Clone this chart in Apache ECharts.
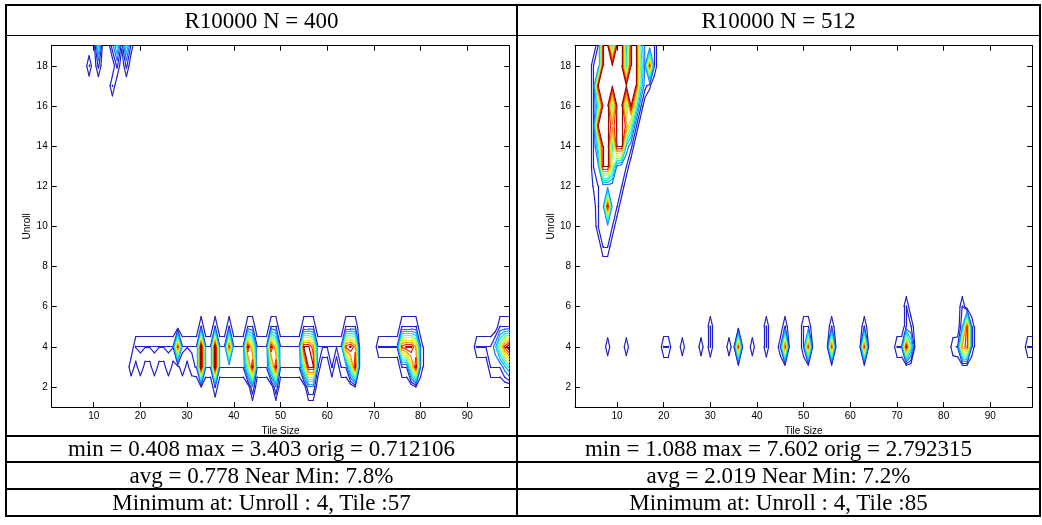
<!DOCTYPE html>
<html><head><meta charset="utf-8">
<script src="https://cdn.jsdelivr.net/npm/echarts@6/dist/echarts.min.js"></script>
<style>
html,body{margin:0;padding:0;background:#fff;}
#wrap{position:relative;width:1042px;height:525px;overflow:hidden;}
#chart{position:absolute;left:0;top:0;width:1042px;height:525px;}
.ln{position:absolute;background:#000;}
.txt{position:absolute;font-family:"Liberation Serif","Times New Roman",serif;font-size:23px;color:#000;text-align:center;white-space:nowrap;}
</style></head>
<body><div id="wrap"><div id="chart"></div></div>
<script>
// ---------- data ----------
const xTicks = [10, 20, 30, 40, 50, 60, 70, 80, 90];
const yTicks = [2, 4, 6, 8, 10, 12, 14, 16, 18];
const tileRange = [1, 99];
const unrollRange = [1, 19];
const levels = [0.5, 0.97, 1.6, 2.2, 2.8, 3.4, 4.0, 4.6, 5.2, 5.8, 6.4];
const levelColors = ['#2020c4', '#2020d4', '#2070ff', '#00b8ff', '#00f0f0', '#60ff9f', '#c8ff38', '#ffe000', '#ff9000', '#ff2400', '#a00000'];

const titles = ['R10000 N = 400', 'R10000 N = 512'];
const stats400 = ['min = 0.408 max = 3.403 orig = 0.712106', 'avg = 0.778 Near Min: 7.8%', 'Minimum at: Unroll : 4, Tile :57'];
const stats512 = ['min = 1.088 max = 7.602 orig = 2.792315', 'avg = 2.019 Near Min: 7.2%', 'Minimum at: Unroll : 4, Tile :85'];

// N = 400 : constant runs [tileFrom, tileTo, unroll, value]
const n400Runs = [
  [19, 66, 4, 1.0], [71, 80, 4, 1.0], [92, 99, 4, 1.0],
  [32, 54, 3, 1.0], [61, 61, 3, 1.0], [63, 64, 3, 1.0], [76, 80, 3, 1.0], [95, 99, 3, 1.0]
];
// N = 400 : single grid values [tile, unroll, value]
const n400Cells = [
  [9, 18, 1], [14, 17, 1], [11, 19, 3], [11, 18, 1.1], [14, 19, 1.3], [15, 19, 3], [15, 18, 1.1],
  [16, 19, 0.6], [17, 19, 3], [17, 18, 1.1], [18, 19, 0.85],
  [18, 3, 0.9], [19, 3, 0.3], [20, 3, 0.9], [21, 3, 0.3], [22, 3, 0.3], [23, 3, 0.9], [24, 3, 0.3],
  [25, 3, 0.3], [26, 3, 0.9], [27, 3, 0.3], [28, 3, 0.3], [29, 3, 0.9], [30, 3, 0.3], [31, 3, 0.9],
  [28, 4, 6.0],
  [33, 5, 1.0], [33, 4, 7], [33, 3, 7], [33, 2, 0.5],
  [36, 5, 1.0], [36, 4, 7], [36, 3, 7], [36, 2, 1.0],
  [39, 5, 1.0], [39, 4, 6],
  [43, 5, 1.0], [44, 5, 1.0], [43, 4, 6.5], [44, 4, 4.5], [43, 3, 3.5], [44, 3, 6.5], [44, 2, 1.5],
  [48, 5, 1.0], [49, 5, 1.0], [48, 4, 6.5], [49, 4, 4.5], [48, 3, 3.5], [49, 3, 6.5], [49, 2, 1.5],
  [55, 5, 1.0], [56, 5, 1.0], [57, 5, 1.0], [55, 4, 6.5], [56, 4, 6.5], [57, 4, 5.5], [55, 3, 3.5],
  [56, 3, 6.5], [57, 3, 6.5], [58, 3, 1.0], [56, 2, 1.5], [57, 2, 1.5],
  [64, 5, 1.0], [65, 5, 1.0], [66, 5, 1.0], [64, 4, 6.0], [65, 4, 6.5], [66, 4, 5.5], [65, 3, 3.5],
  [66, 3, 6.5], [66, 2, 0.5],
  [76, 5, 1.0], [77, 5, 1.0], [78, 5, 1.0], [79, 5, 1.0], [76, 4, 6.0], [77, 4, 6.5], [78, 4, 6.5],
  [79, 4, 5.0], [78, 3, 4.0], [79, 3, 6.5], [79, 2, 0.5],
  [97, 5, 1.0], [98, 5, 1.0], [99, 5, 1.0], [96, 4, 2.0], [97, 4, 4.0], [98, 4, 6.0], [99, 4, 7.0],
  [98, 3, 2.0], [99, 3, 3.0]
];

// N = 512 : rows of the large region [unroll, firstTile, values...]
const n512Rows = [
  [19, 4, [0, 0, 1, 6.5, 6.5, 2.5, 6.5, 6.5, 2.0, 6.5, 6.5, 3.0, 1.5, 1, 1, 0]],
  [18, 4, [0, 1, 1, 6.5, 6.5, 6.5, 6.5, 6.5, 2.5, 6.5, 6.5, 3.5, 1.5, 6, 1, 0]],
  [17, 4, [0, 1, 6.5, 6.5, 6.5, 6.5, 6.5, 6.5, 6.5, 6.5, 6.5, 3.0, 1.2, 0.6, 0, 0]],
  [16, 4, [0, 1, 3, 6.5, 6.5, 3, 6.5, 6.5, 3, 6.5, 3.5, 1.2, 0, 0, 0, 0]],
  [15, 4, [0, 1, 6.5, 6.5, 6.5, 5.4, 6.5, 6.5, 5.6, 3.5, 1.2, 0, 0, 0, 0, 0]],
  [14, 4, [0, 1, 3, 6.5, 6.5, 2.5, 6.5, 6.5, 2.0, 1.2, 0, 0, 0, 0, 0, 0]],
  [13, 4, [0, 1, 1.5, 6.5, 6.5, 4, 1.5, 1.2, 1, 0, 0, 0, 0, 0, 0, 0]],
  [12, 4, [0, 0.6, 1, 1.2, 1.2, 1.2, 1, 1, 0]],
  [11, 4, [0, 0.2, 1, 1.2, 6.5, 1.2, 1, 0]],
  [10, 4, [0, 0, 1, 1, 1.2, 1, 0]],
  [9, 4, [0, 0, 0, 1, 1, 0]]
];
// N = 512 : single grid values [tile, unroll, value]
const n512Cells = [
  [8, 4, 0.9], [12, 4, 0.9], [20, 4, 1.0], [21, 4, 1.0], [24, 4, 0.9], [28, 4, 0.9],
  [30, 4, 1.0], [30, 5, 1.0], [34, 4, 0.9], [36, 4, 6.0], [39, 4, 0.9], [42, 4, 1.0], [42, 5, 1.0],
  [45, 4, 0.9], [46, 4, 6.0], [46, 5, 1.0], [50, 4, 1.0], [50, 5, 1.0], [51, 5, 1.0], [51, 4, 6.0],
  [56, 4, 6.0], [56, 5, 1.0], [63, 4, 6.0], [63, 5, 1.0],
  [70, 4, 1.0], [71, 4, 1.0], [72, 4, 6.5], [73, 4, 3.0], [72, 5, 1.0], [73, 5, 1.0], [72, 6, 1.0],
  [82, 4, 0.9], [83, 4, 1.0], [84, 4, 5.5], [84, 5, 1.5], [84, 6, 1.0], [85, 5, 6.0], [85, 4, 6.0],
  [86, 4, 1.0], [86, 5, 1.0], [98, 4, 1.0], [99, 4, 1.0]
];

// ---------- grid building ----------
function makeGrid() {
  const g = [];
  for (let x = tileRange[0]; x <= tileRange[1]; x++) { g[x] = []; for (let y = unrollRange[0]; y <= unrollRange[1]; y++) g[x][y] = 0; }
  return g;
}
function applyRuns(g, runs) { runs.forEach(([a, b, y, v]) => { for (let x = a; x <= b; x++) g[x][y] = v; }); }
function applyCells(g, cells) { cells.forEach(([x, y, v]) => { g[x][y] = v; }); }
function applyRows(g, rows) { rows.forEach(([y, x0, vals]) => { vals.forEach((v, i) => { g[x0 + i][y] = v; }); }); }

const grid400 = makeGrid(); applyRuns(grid400, n400Runs); applyCells(grid400, n400Cells);
const grid512 = makeGrid(); applyRows(grid512, n512Rows); applyCells(grid512, n512Cells);

// marching squares -> segments in data coordinates
function contourSegments(g, L) {
  const segs = [];
  for (let x = tileRange[0]; x < tileRange[1]; x++) {
    for (let y = unrollRange[0]; y < unrollRange[1]; y++) {
      const a = g[x][y], b = g[x + 1][y], c = g[x + 1][y + 1], d = g[x][y + 1];
      const idx = (a > L ? 1 : 0) | (b > L ? 2 : 0) | (c > L ? 4 : 0) | (d > L ? 8 : 0);
      if (idx === 0 || idx === 15) continue;
      const e = [
        () => [x + (L - a) / (b - a), y],
        () => [x + 1, y + (L - b) / (c - b)],
        () => [x + (L - d) / (c - d), y + 1],
        () => [x, y + (L - a) / (d - a)]
      ];
      const center = (a + b + c + d) / 4;
      let pairs;
      switch (idx) {
        case 1: case 14: pairs = [[3, 0]]; break;
        case 2: case 13: pairs = [[0, 1]]; break;
        case 3: case 12: pairs = [[3, 1]]; break;
        case 4: case 11: pairs = [[1, 2]]; break;
        case 6: case 9: pairs = [[0, 2]]; break;
        case 7: case 8: pairs = [[3, 2]]; break;
        case 5: pairs = center > L ? [[0, 1], [2, 3]] : [[3, 0], [1, 2]]; break;
        case 10: pairs = center > L ? [[3, 0], [1, 2]] : [[0, 1], [2, 3]]; break;
      }
      pairs.forEach(([p, q]) => segs.push({ coords: [e[p](), e[q]()] }));
    }
  }
  return segs;
}

// ---------- chart ----------
const labelFont = 'Liberation Sans, Arial, Helvetica, sans-serif';
const grids = [
  { left: 51.7, top: 45.7, width: 457.6, height: 361.3 },
  { left: 575, top: 45.7, width: 457.3, height: 361.3 }
];
function xAxisDef(gi, pos, main) {
  return {
    type: 'value', gridIndex: gi, position: pos, min: tileRange[0], max: tileRange[1],
    axisLine: { show: true, onZero: false, lineStyle: { color: '#000', width: 1 } },
    axisTick: { show: true, inside: true, length: 5, customValues: xTicks, lineStyle: { color: '#000', width: 1 } },
    axisLabel: { show: main, customValues: xTicks, color: '#000', fontSize: 10, fontFamily: labelFont, margin: 4 },
    splitLine: { show: false },
    name: main ? 'Tile Size' : '', nameLocation: 'middle', nameGap: 16,
    nameTextStyle: { color: '#000', fontSize: 10, fontFamily: labelFont }
  };
}
function yAxisDef(gi, pos, main) {
  return {
    type: 'value', gridIndex: gi, position: pos, min: unrollRange[0], max: unrollRange[1],
    axisLine: { show: true, onZero: false, lineStyle: { color: '#000', width: 1 } },
    axisTick: { show: true, inside: true, length: 5, customValues: yTicks, lineStyle: { color: '#000', width: 1 } },
    axisLabel: { show: main, customValues: yTicks, color: '#000', fontSize: 10, fontFamily: labelFont, margin: 4 },
    splitLine: { show: false },
    name: main ? 'Unroll' : '', nameLocation: 'middle', nameGap: 19, nameRotate: 90,
    nameTextStyle: { color: '#000', fontSize: 10, fontFamily: labelFont }
  };
}
const series = [];
[grid400, grid512].forEach((g, gi) => {
  levels.forEach((L, li) => {
    series.push({
      type: 'lines', coordinateSystem: 'cartesian2d', xAxisIndex: gi * 2, yAxisIndex: gi * 2,
      polyline: false, silent: true, animation: false, z: 2 + li,
      lineStyle: { color: levelColors[li], width: 1.2, opacity: 1, cap: 'round' },
      data: contourSegments(g, L)
    });
  });
});
const chart = echarts.init(document.getElementById('chart'), null, { renderer: 'canvas' });
chart.setOption({
  animation: false,
  backgroundColor: 'transparent',
  grid: grids,
  xAxis: [xAxisDef(0, 'bottom', true), xAxisDef(0, 'top', false), xAxisDef(1, 'bottom', true), xAxisDef(1, 'top', false)],
  yAxis: [yAxisDef(0, 'left', true), yAxisDef(0, 'right', false), yAxisDef(1, 'left', true), yAxisDef(1, 'right', false)],
  series: series
});

// ---------- table frame and texts ----------
const wrap = document.getElementById('wrap');
function line(x, y, w, h) { const d = document.createElement('div'); d.className = 'ln'; Object.assign(d.style, { left: x + 'px', top: y + 'px', width: w + 'px', height: h + 'px' }); wrap.appendChild(d); }
function text(str, x, y, w, h) { const d = document.createElement('div'); d.className = 'txt'; d.textContent = str; Object.assign(d.style, { left: x + 'px', top: y + 'px', width: w + 'px', height: h + 'px', lineHeight: h + 'px' }); wrap.appendChild(d); }
const T = { l: 5, r: 1041, t: 4, b: 517, mid: 516 };
line(T.l, T.t, T.r - T.l, 2);
line(T.l, T.b - 2, T.r - T.l, 2);
line(T.l, T.t, 2, T.b - T.t);
line(T.r - 2, T.t, 2, T.b - T.t);
line(T.mid, T.t, 2, T.b - T.t);
line(T.l, 35, T.r - T.l, 1);
line(T.l, 435, T.r - T.l, 2);
line(T.l, 461, T.r - T.l, 2);
line(T.l, 488, T.r - T.l, 2);
const cols = [[T.l + 2, T.mid], [T.mid + 2, T.r - 2]];
const rowsY = [[437, 24], [463, 25], [490, 25]];
[stats400, stats512].forEach((rows, ci) => {
  const [x0, x1] = cols[ci];
  text(titles[ci], x0, 6, x1 - x0, 29);
  rows.forEach((s, ri) => text(s, x0, rowsY[ri][0], x1 - x0, rowsY[ri][1]));
});
</script>
</body></html>
